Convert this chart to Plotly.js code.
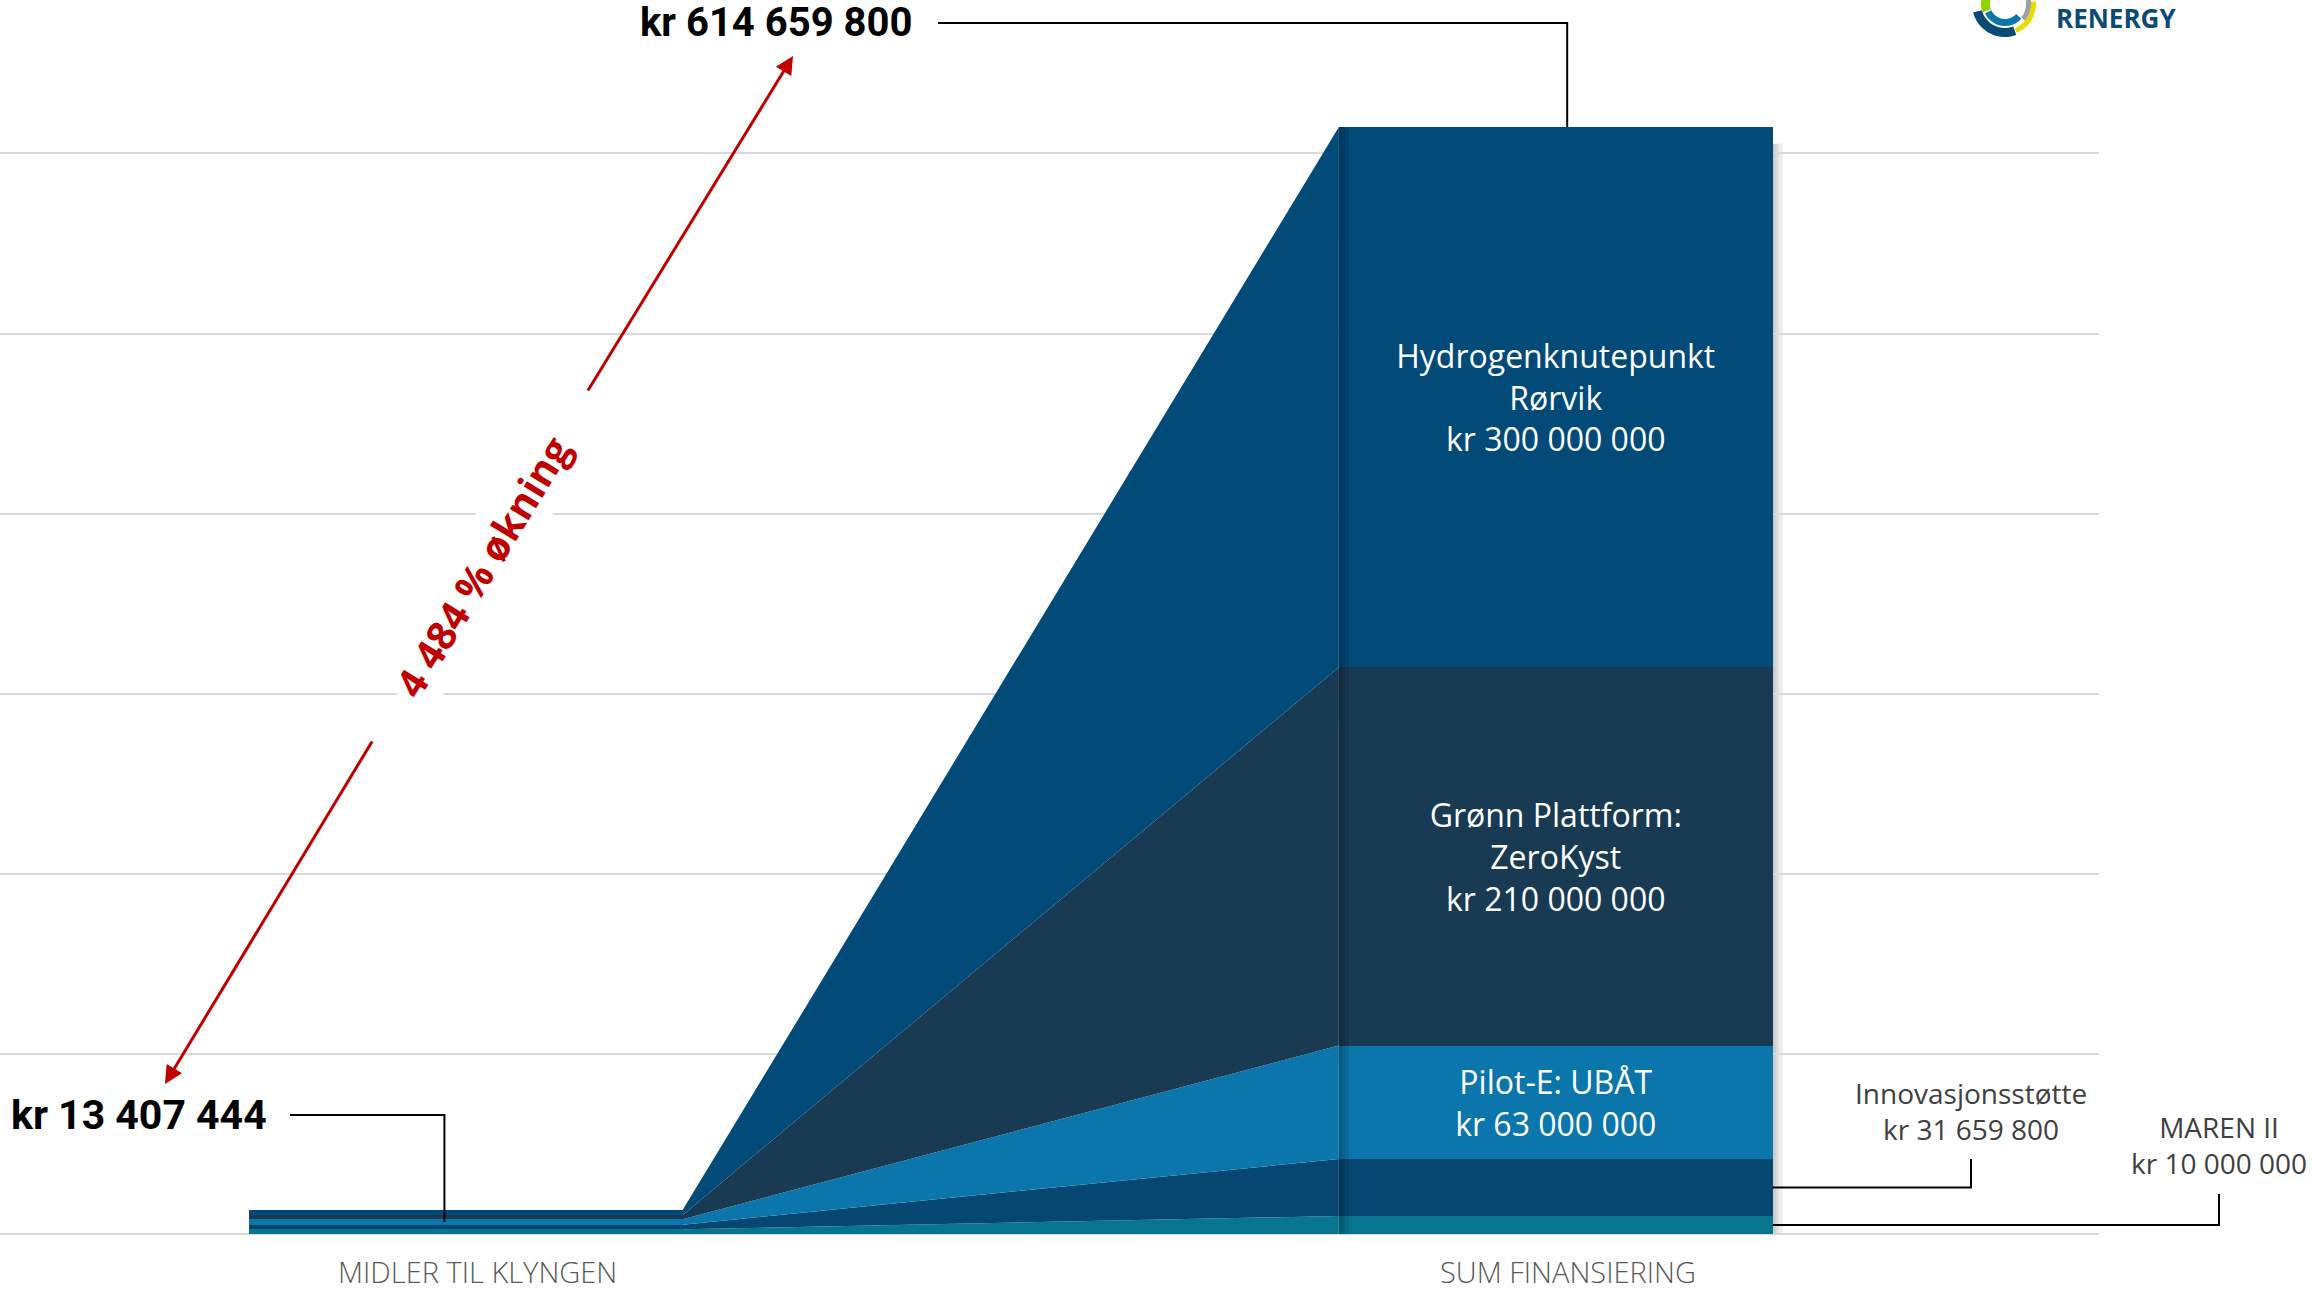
<!DOCTYPE html>
<html>
<head>
<meta charset="utf-8">
<script src="https://cdn.plot.ly/plotly-3.0.1.min.js"></script>
<style>html,body{margin:0;padding:0;background:#fff;}#chart{width:2312px;height:1291px;}</style>
</head>
<body>
<div id="chart"></div>
<script>
// ---------- DATA ----------
const categories = ['MIDLER TIL KLYNGEN', 'SUM FINANSIERING'];
const seriesNames = ['MAREN II', 'Innovasjonsstøtte', 'Pilot-E: UBÅT', 'Grønn Plattform: ZeroKyst', 'Hydrogenknutepunkt Rørvik'];
const seriesLabels = ['MAREN II', 'Innovasjonsstøtte', 'Pilot-E: UBÅT', 'Grønn Plattform:<br>ZeroKyst', 'Hydrogenknutepunkt<br>Rørvik'];
const midlerValues = [2600000, 2600000, 3000000, 2400000, 2807444];
const sumValues = [10000000, 31659800, 63000000, 210000000, 300000000];
const labelInside = [false, false, true, true, true];
const seriesColors = ['#077590', '#064771', '#0b76ab', '#193a53', '#024a78'];

// ---------- HELPERS ----------
function fmtKr(v) {
  return 'kr ' + Math.round(v).toString().replace(/\B(?=(\d{3})+(?!\d))/g, ' ');
}
const sum = a => a.reduce((s, v) => s + v, 0);
const totalL = sum(midlerValues);
const totalR = sum(sumValues);
const increasePct = Math.round((totalR / totalL - 1) * 100);
const pctText = increasePct.toString().replace(/\B(?=(\d{3})+(?!\d))/g, ' ') + ' % økning';

const BARW = 0.398;
const xr = [-0.4275, 1.4985];
const yMax = 685.2e6;
const PW = 2099, PH = 1234;
const xP = d => (d - xr[0]) / (xr[1] - xr[0]);
const yP = v => v / yMax;
const pxX = p => p / PW;
const pxY = p => (PH - p) / PH;
function pathPaper(pts) {
  return pts.map((p, i) => (i ? 'L' : 'M') + p[0].toFixed(5) + ',' + p[1].toFixed(5)).join(' ');
}

// cumulative boundaries
const cumL = [0], cumR = [0];
midlerValues.forEach((v, i) => cumL.push(cumL[i] + v));
sumValues.forEach((v, i) => cumR.push(cumR[i] + v));

const traces = [];
// connectors between bars
const xa = 0 + BARW / 2, xb = 1 - BARW / 2;
seriesNames.forEach((n, i) => {
  traces.push({
    type: 'scatter', mode: 'lines', fill: 'toself',
    x: [xa, xb, xb, xa, xa],
    y: [cumL[i], cumR[i], cumR[i + 1], cumL[i + 1], cumL[i]],
    line: {width: 0, color: seriesColors[i]},
    fillcolor: seriesColors[i], hoverinfo: 'skip', showlegend: false
  });
});
// stacked bars
seriesNames.forEach((n, i) => {
  traces.push({
    type: 'bar', name: n, x: [0, 1], y: [midlerValues[i], sumValues[i]],
    width: BARW,
    marker: {color: seriesColors[i], line: {width: 0}},
    text: ['', labelInside[i] ? seriesLabels[i] + '<br>' + fmtKr(sumValues[i]) : ''],
    textposition: 'inside', insidetextanchor: 'middle', textangle: 0,
    textfont: {family: 'Open Sans', size: 32, color: '#ffffff'},
    hoverinfo: 'skip', showlegend: false
  });
});

// ---------- SHAPES ----------
const shapes = [];
const pxD = 1 / 1090; // one pixel in x data units
// right bar outer shadow (right side)
[3, 6, 10].forEach(w => shapes.push({type: 'rect', xref: 'x', yref: 'y', layer: 'below',
  x0: 1 + BARW / 2, x1: 1 + BARW / 2 + w * pxD, y0: 0, y1: totalR * 0.985,
  fillcolor: 'rgba(0,0,0,0.07)', line: {width: 0}}));
// right bar inner shadow (left edge)
[3, 6, 10].forEach(w => shapes.push({type: 'rect', xref: 'x', yref: 'y', layer: 'above',
  x0: 1 - BARW / 2, x1: 1 - BARW / 2 + w * pxD, y0: 0, y1: totalR,
  fillcolor: 'rgba(0,0,0,0.09)', line: {width: 0}}));

// leader lines
const lineStyle = {color: '#000000', width: 2};
shapes.push({type: 'path', xref: 'paper', yref: 'paper', line: lineStyle,
  path: pathPaper([[pxX(938), pxY(23)], [xP(1.0105), pxY(23)], [xP(1.0105), yP(totalR)]])});
shapes.push({type: 'path', xref: 'paper', yref: 'paper', line: lineStyle,
  path: pathPaper([[pxX(290), pxY(1115)], [xP(-0.0197), pxY(1115)], [xP(-0.0197), yP(totalL / 2)]])});
// Innovasjon
const midInnov = (cumR[1] + cumR[2]) / 2;
shapes.push({type: 'path', xref: 'paper', yref: 'paper', line: lineStyle,
  path: pathPaper([[xP(1 + BARW / 2), yP(midInnov)], [pxX(1971), yP(midInnov)], [pxX(1971), pxY(1159)]])});
// MAREN
const midMaren = (cumR[0] + cumR[1]) / 2;
shapes.push({type: 'path', xref: 'paper', yref: 'paper', line: lineStyle,
  path: pathPaper([[xP(1 + BARW / 2), yP(midMaren)], [pxX(2219), yP(midMaren)], [pxX(2219), pxY(1194)]])});

// logo arcs (partially cut at top)
function ring(cx, cy, r1, r2, a1, a2, color) {
  const pts = [], n = 30;
  for (let k = 0; k <= n; k++) {
    const a = (a1 + (a2 - a1) * k / n) * Math.PI / 180;
    pts.push([pxX(cx + r2 * Math.cos(a)), pxY(cy - r2 * Math.sin(a))]);
  }
  for (let k = n; k >= 0; k--) {
    const a = (a1 + (a2 - a1) * k / n) * Math.PI / 180;
    pts.push([pxX(cx + r1 * Math.cos(a)), pxY(cy - r1 * Math.sin(a))]);
  }
  shapes.push({type: 'path', xref: 'paper', yref: 'paper', fillcolor: color, line: {width: 0},
    path: pathPaper(pts) + ' Z'});
}
ring(2005, 4, 24, 33, 195, 290, '#0b4a75');
ring(2005, 4, 26, 31, 292, 365, '#e6dc00');
ring(2005, 4, 21, 26, 320, 370, '#a0a0a0');
ring(2005, 4, 15, 24, 150, 200, '#8fd400');
ring(2005, 4, 15, 22, 205, 318, '#0b76ab');

// ---------- ANNOTATIONS ----------
const red = '#c00000';
const annotations = [
  {xref: 'paper', yref: 'paper', x: pxX(914), y: pxY(23), xanchor: 'right', yanchor: 'middle',
    text: '<b>' + fmtKr(totalR) + '</b>', showarrow: false,
    font: {family: 'Roboto', size: 40, color: '#000000'}},
  {xref: 'paper', yref: 'paper', x: pxX(9), y: pxY(1115), xanchor: 'left', yanchor: 'middle',
    text: '<b>' + fmtKr(totalL) + '</b>', showarrow: false,
    font: {family: 'Roboto', size: 41, color: '#000000'}},
  {xref: 'paper', yref: 'paper', x: pxX(1971), y: pxY(1111), xanchor: 'center', yanchor: 'middle',
    text: seriesLabels[1] + '<br>' + fmtKr(sumValues[1]), showarrow: false,
    font: {family: 'Open Sans', size: 28, color: '#404040'}},
  {xref: 'paper', yref: 'paper', x: pxX(2219), y: pxY(1145), xanchor: 'center', yanchor: 'middle',
    text: seriesLabels[0] + '<br>' + fmtKr(sumValues[0]), showarrow: false,
    font: {family: 'Open Sans', size: 28, color: '#404040'}},
  // arrows
  {xref: 'paper', yref: 'paper', x: pxX(165), y: pxY(1084), text: '', showarrow: true,
    ax: 208, ay: -344, arrowhead: 2, arrowsize: 1.2, arrowwidth: 3, arrowcolor: red, standoff: 0, startstandoff: 0},
  {xref: 'paper', yref: 'paper', x: pxX(793), y: pxY(56), text: '', showarrow: true,
    ax: -206, ay: 336, arrowhead: 2, arrowsize: 1.2, arrowwidth: 3, arrowcolor: red, standoff: 0, startstandoff: 0},
  {xref: 'paper', yref: 'paper', x: pxX(482), y: pxY(566), xanchor: 'center', yanchor: 'middle',
    text: '<b>' + pctText + '</b>', showarrow: false, textangle: -58.6,
    bgcolor: '#ffffff', borderpad: 5,
    font: {family: 'Open Sans', size: 40, color: red}},
  // logo text
  {xref: 'paper', yref: 'paper', x: pxX(2055), y: pxY(18), xanchor: 'left', yanchor: 'middle',
    text: '<b>RENERGY</b>', showarrow: false, borderpad: 0,
    font: {family: 'Open Sans', size: 26, color: '#0b4a75'}}
];
// category labels (placed under each category position)
categories.forEach((c, i) => annotations.push({
  xref: 'x', yref: 'paper', x: i, y: pxY(1271), xanchor: 'center', yanchor: 'middle', xshift: 12,
  text: c, showarrow: false, borderpad: 0,
  font: {family: 'Open Sans', size: 29, color: '#595959', weight: 300}
}));

const layout = {
  width: 2312, height: 1291,
  margin: {l: 0, r: 213, t: 0, b: 57},
  paper_bgcolor: '#ffffff', plot_bgcolor: '#ffffff',
  barmode: 'stack', showlegend: false, hovermode: false,
  xaxis: {range: xr, tickvals: [0, 1], ticktext: categories, showticklabels: false, showgrid: false,
    zeroline: false, showline: false, ticks: '', automargin: false},
  yaxis: {range: [0, yMax], dtick: 100e6, tick0: 0, showgrid: true, gridcolor: '#d9d9d9', gridwidth: 2,
    zeroline: true, zerolinecolor: '#d9d9d9', zerolinewidth: 2, showticklabels: false, ticks: '',
    automargin: false},
  shapes: shapes, annotations: annotations
};

Plotly.newPlot('chart', traces, layout, {displayModeBar: false, staticPlot: true});
</script>
</body>
</html>
